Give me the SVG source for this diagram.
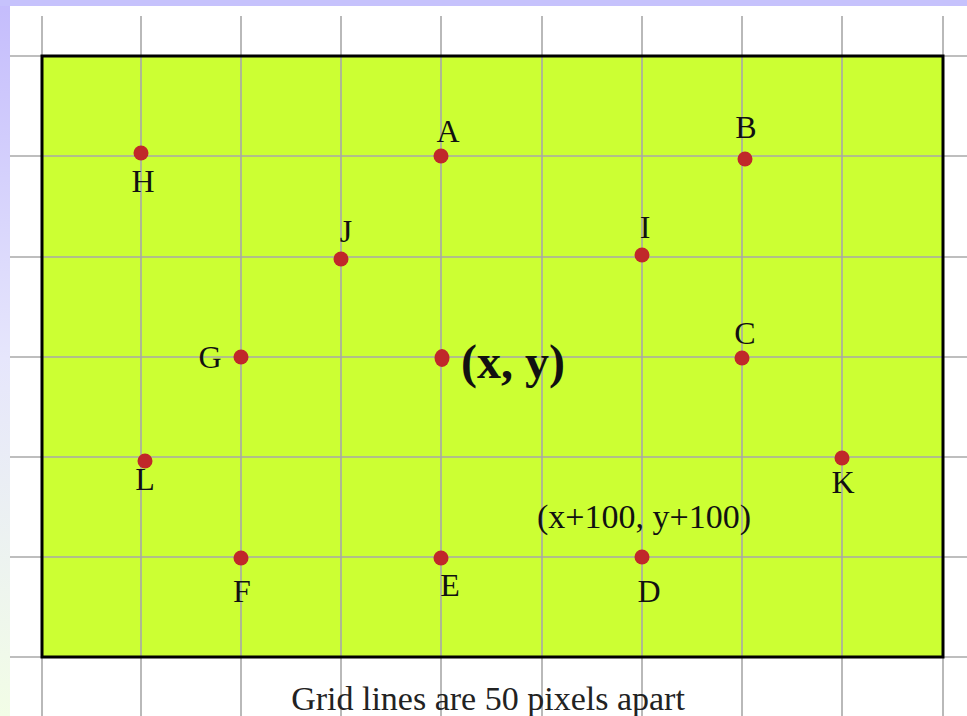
<svg xmlns="http://www.w3.org/2000/svg" width="967" height="716" viewBox="0 0 967 716">
<defs>
<linearGradient id="bg" x1="0" y1="0" x2="0" y2="1">
<stop offset="0" stop-color="#c4bcfc"/>
<stop offset="0.5" stop-color="#e6e6fc"/>
<stop offset="1" stop-color="#f2fde6"/>
</linearGradient>
<style>
.grid line{stroke:#a8a8a8;stroke-width:1.6}
.dot{fill:#c0282a}
.lbl{font-family:"Liberation Serif","Times New Roman",serif;font-size:32px;fill:#111;text-anchor:middle}
</style>
</defs>
<rect x="0" y="0" width="967" height="716" fill="url(#bg)"/>
<rect x="0" y="0" width="967" height="6" fill="#c6c2fc"/>
<rect x="10" y="6" width="957" height="710" fill="#ffffff"/>
<rect id="board" x="42" y="56" width="901" height="601" fill="#ccff33"/>
<g class="grid">
<line x1="42" y1="16" x2="42" y2="716"/>
<line x1="141" y1="16" x2="141" y2="716"/>
<line x1="241" y1="16" x2="241" y2="716"/>
<line x1="341" y1="16" x2="341" y2="716"/>
<line x1="441" y1="16" x2="441" y2="716"/>
<line x1="542" y1="16" x2="542" y2="716"/>
<line x1="642" y1="16" x2="642" y2="716"/>
<line x1="742" y1="16" x2="742" y2="716"/>
<line x1="842" y1="16" x2="842" y2="716"/>
<line x1="943" y1="16" x2="943" y2="716"/>
<line x1="10" y1="56" x2="967" y2="56"/>
<line x1="10" y1="156" x2="967" y2="156"/>
<line x1="10" y1="257" x2="967" y2="257"/>
<line x1="10" y1="357" x2="967" y2="357"/>
<line x1="10" y1="457" x2="967" y2="457"/>
<line x1="10" y1="557" x2="967" y2="557"/>
<line x1="10" y1="657" x2="967" y2="657"/>
</g>
<rect x="42" y="56" width="901" height="601" fill="none" stroke="#000" stroke-width="3"/>
<g id="connectors"/>
<g id="H"><circle class="dot" cx="141" cy="153" r="7.5"/><text class="lbl" x="143" y="192">H</text></g>
<g id="A"><circle class="dot" cx="441" cy="156" r="7.5"/><text class="lbl" x="448" y="142">A</text></g>
<g id="B"><circle class="dot" cx="745" cy="159" r="7.5"/><text class="lbl" x="746" y="138">B</text></g>
<g id="J"><circle class="dot" cx="341" cy="259" r="7.5"/><text class="lbl" x="346" y="242">J</text></g>
<g id="I"><circle class="dot" cx="642" cy="255" r="7.5"/><text class="lbl" x="645" y="238">I</text></g>
<g id="G"><circle class="dot" cx="241" cy="357" r="7.5"/><text class="lbl" x="210" y="368">G</text></g>
<g id="XY"><ellipse class="dot" cx="442" cy="358" rx="7.5" ry="9"/><text x="461" y="378" font-family="Liberation Serif,'Times New Roman',serif" font-size="48" font-weight="bold" fill="#111">(x, y)</text></g>
<g id="C"><circle class="dot" cx="742" cy="358" r="7.5"/><text class="lbl" x="745" y="344">C</text></g>
<g id="L"><circle class="dot" cx="145" cy="461" r="7.5"/><text class="lbl" x="145" y="490">L</text></g>
<g id="K"><circle class="dot" cx="842" cy="458" r="7.5"/><text class="lbl" x="843" y="493">K</text></g>
<g id="F"><circle class="dot" cx="241" cy="558" r="7.5"/><text class="lbl" x="242" y="602">F</text></g>
<g id="E"><circle class="dot" cx="441" cy="558" r="7.5"/><text class="lbl" x="450" y="596">E</text></g>
<g id="D"><circle class="dot" cx="642" cy="557" r="7.5"/><text class="lbl" x="649" y="602">D</text><text class="lbl" x="644" y="528" font-size="34" style="font-size:34px">(x+100, y+100)</text></g>
<text x="488" y="710" font-family="Liberation Serif,'Times New Roman',serif" font-size="34" fill="#222" text-anchor="middle">Grid lines are 50 pixels apart</text>
</svg>
